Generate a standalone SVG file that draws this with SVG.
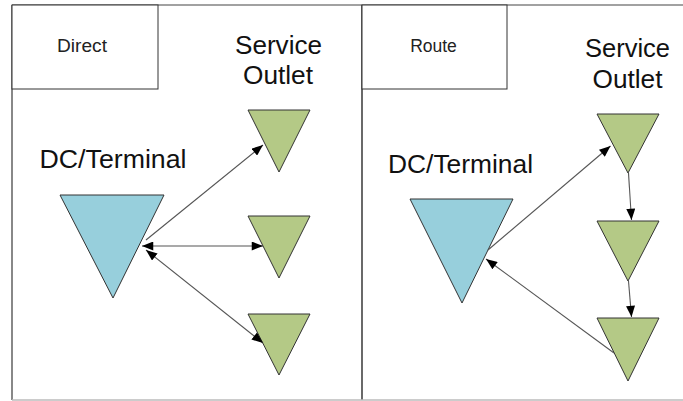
<svg xmlns="http://www.w3.org/2000/svg" width="683" height="401" viewBox="0 0 683 401">
  <style>
    .frame { fill: none; stroke: #444; stroke-width: 1.2; }
    .label-box { fill: #fff; stroke: #333; stroke-width: 1; }
    .small { font-family: "Liberation Sans", Arial, sans-serif; font-size: 17.5px; fill: #222; text-anchor: middle; }
    .big { font-family: "Liberation Sans", Arial, sans-serif; font-size: 25px; fill: #111; text-anchor: middle; }
    .dc { fill: #97cfdc; stroke: #333; stroke-width: 1; stroke-linejoin: miter; }
    .outlet { fill: #b4c986; stroke: #333; stroke-width: 1; }
    .link { fill: none; stroke: #555; stroke-width: 1.1; }
  </style>
  <defs>
    <marker id="head" viewBox="0 0 10 8" refX="10" refY="4" markerWidth="12" markerHeight="9" markerUnits="userSpaceOnUse" orient="auto-start-reverse">
      <path d="M0,0 L10,4 L0,8 Z" fill="#000"/>
    </marker>
  </defs>

  <rect width="683" height="401" fill="#fff"/>

  <!-- panel frame -->
  <g id="frame">
    <line x1="12" y1="5" x2="683" y2="5" class="frame"/>
    <line x1="12" y1="5" x2="12" y2="400" stroke="#888" stroke-width="2"/>
    <line x1="362" y1="5" x2="362" y2="400" stroke="#444" stroke-width="1.6"/>
    <line x1="12" y1="400" x2="683" y2="400" stroke="#bbb" stroke-width="1.5"/>
  </g>

  <!-- left panel: direct delivery -->
  <g id="direct-box">
    <rect x="12" y="5" width="146" height="84" class="label-box"/>
    <text x="82" y="52" class="small" textLength="50" lengthAdjust="spacingAndGlyphs">Direct</text>
  </g>
  <g id="direct-outlet-label">
    <text x="278.5" y="54" class="big" textLength="87" lengthAdjust="spacingAndGlyphs">Service</text>
    <text x="278" y="84" class="big" textLength="70" lengthAdjust="spacingAndGlyphs">Outlet</text>
  </g>
  <g id="direct-dc">
    <text x="113" y="168" class="big" textLength="147" lengthAdjust="spacingAndGlyphs">DC/Terminal</text>
    <polygon points="60,195 164,195 113,298" class="dc"/>
  </g>
  <g id="direct-outlet-1"><polygon points="248,110 310,110 279,172" class="outlet"/></g>
  <g id="direct-outlet-2"><polygon points="248,216 310,216 279,278" class="outlet"/></g>
  <g id="direct-outlet-3"><polygon points="248,314 310,314 279,375" class="outlet"/></g>

  <!-- right panel: routed delivery -->
  <g id="route-box">
    <rect x="362" y="5" width="145" height="84" class="label-box"/>
    <text x="433.5" y="52" class="small">Route</text>
  </g>
  <g id="route-outlet-label">
    <text x="627.5" y="57" class="big" textLength="85" lengthAdjust="spacingAndGlyphs">Service</text>
    <text x="627.5" y="88" class="big" textLength="70" lengthAdjust="spacingAndGlyphs">Outlet</text>
  </g>
  <g id="route-dc">
    <text x="460.5" y="173" class="big" textLength="145" lengthAdjust="spacingAndGlyphs">DC/Terminal</text>
    <polygon points="410,199 513,199 462,303" class="dc"/>
  </g>
  <g id="route-outlet-1"><polygon points="597,114 659,114 628,173" class="outlet"/></g>
  <g id="route-outlet-2"><polygon points="597,221 659,221 628,281" class="outlet"/></g>
  <g id="route-outlet-3"><polygon points="597,318 659,318 628,381" class="outlet"/></g>

  <!-- connectors -->
  <g id="connectors">
    <line x1="146" y1="240" x2="263" y2="145" class="link" marker-end="url(#head)"/>
    <line x1="142" y1="246" x2="263" y2="246" class="link" marker-start="url(#head)" marker-end="url(#head)"/>
    <line x1="146" y1="250" x2="263" y2="343" class="link" marker-start="url(#head)" marker-end="url(#head)"/>

    <line x1="488" y1="250" x2="610.5" y2="146" class="link" marker-end="url(#head)"/>
    <line x1="628.5" y1="173" x2="631.5" y2="220" class="link" marker-end="url(#head)"/>
    <line x1="628.5" y1="281" x2="631.5" y2="317" class="link" marker-end="url(#head)"/>
    <line x1="614" y1="353" x2="486" y2="259" class="link" marker-end="url(#head)"/>
  </g>
</svg>
